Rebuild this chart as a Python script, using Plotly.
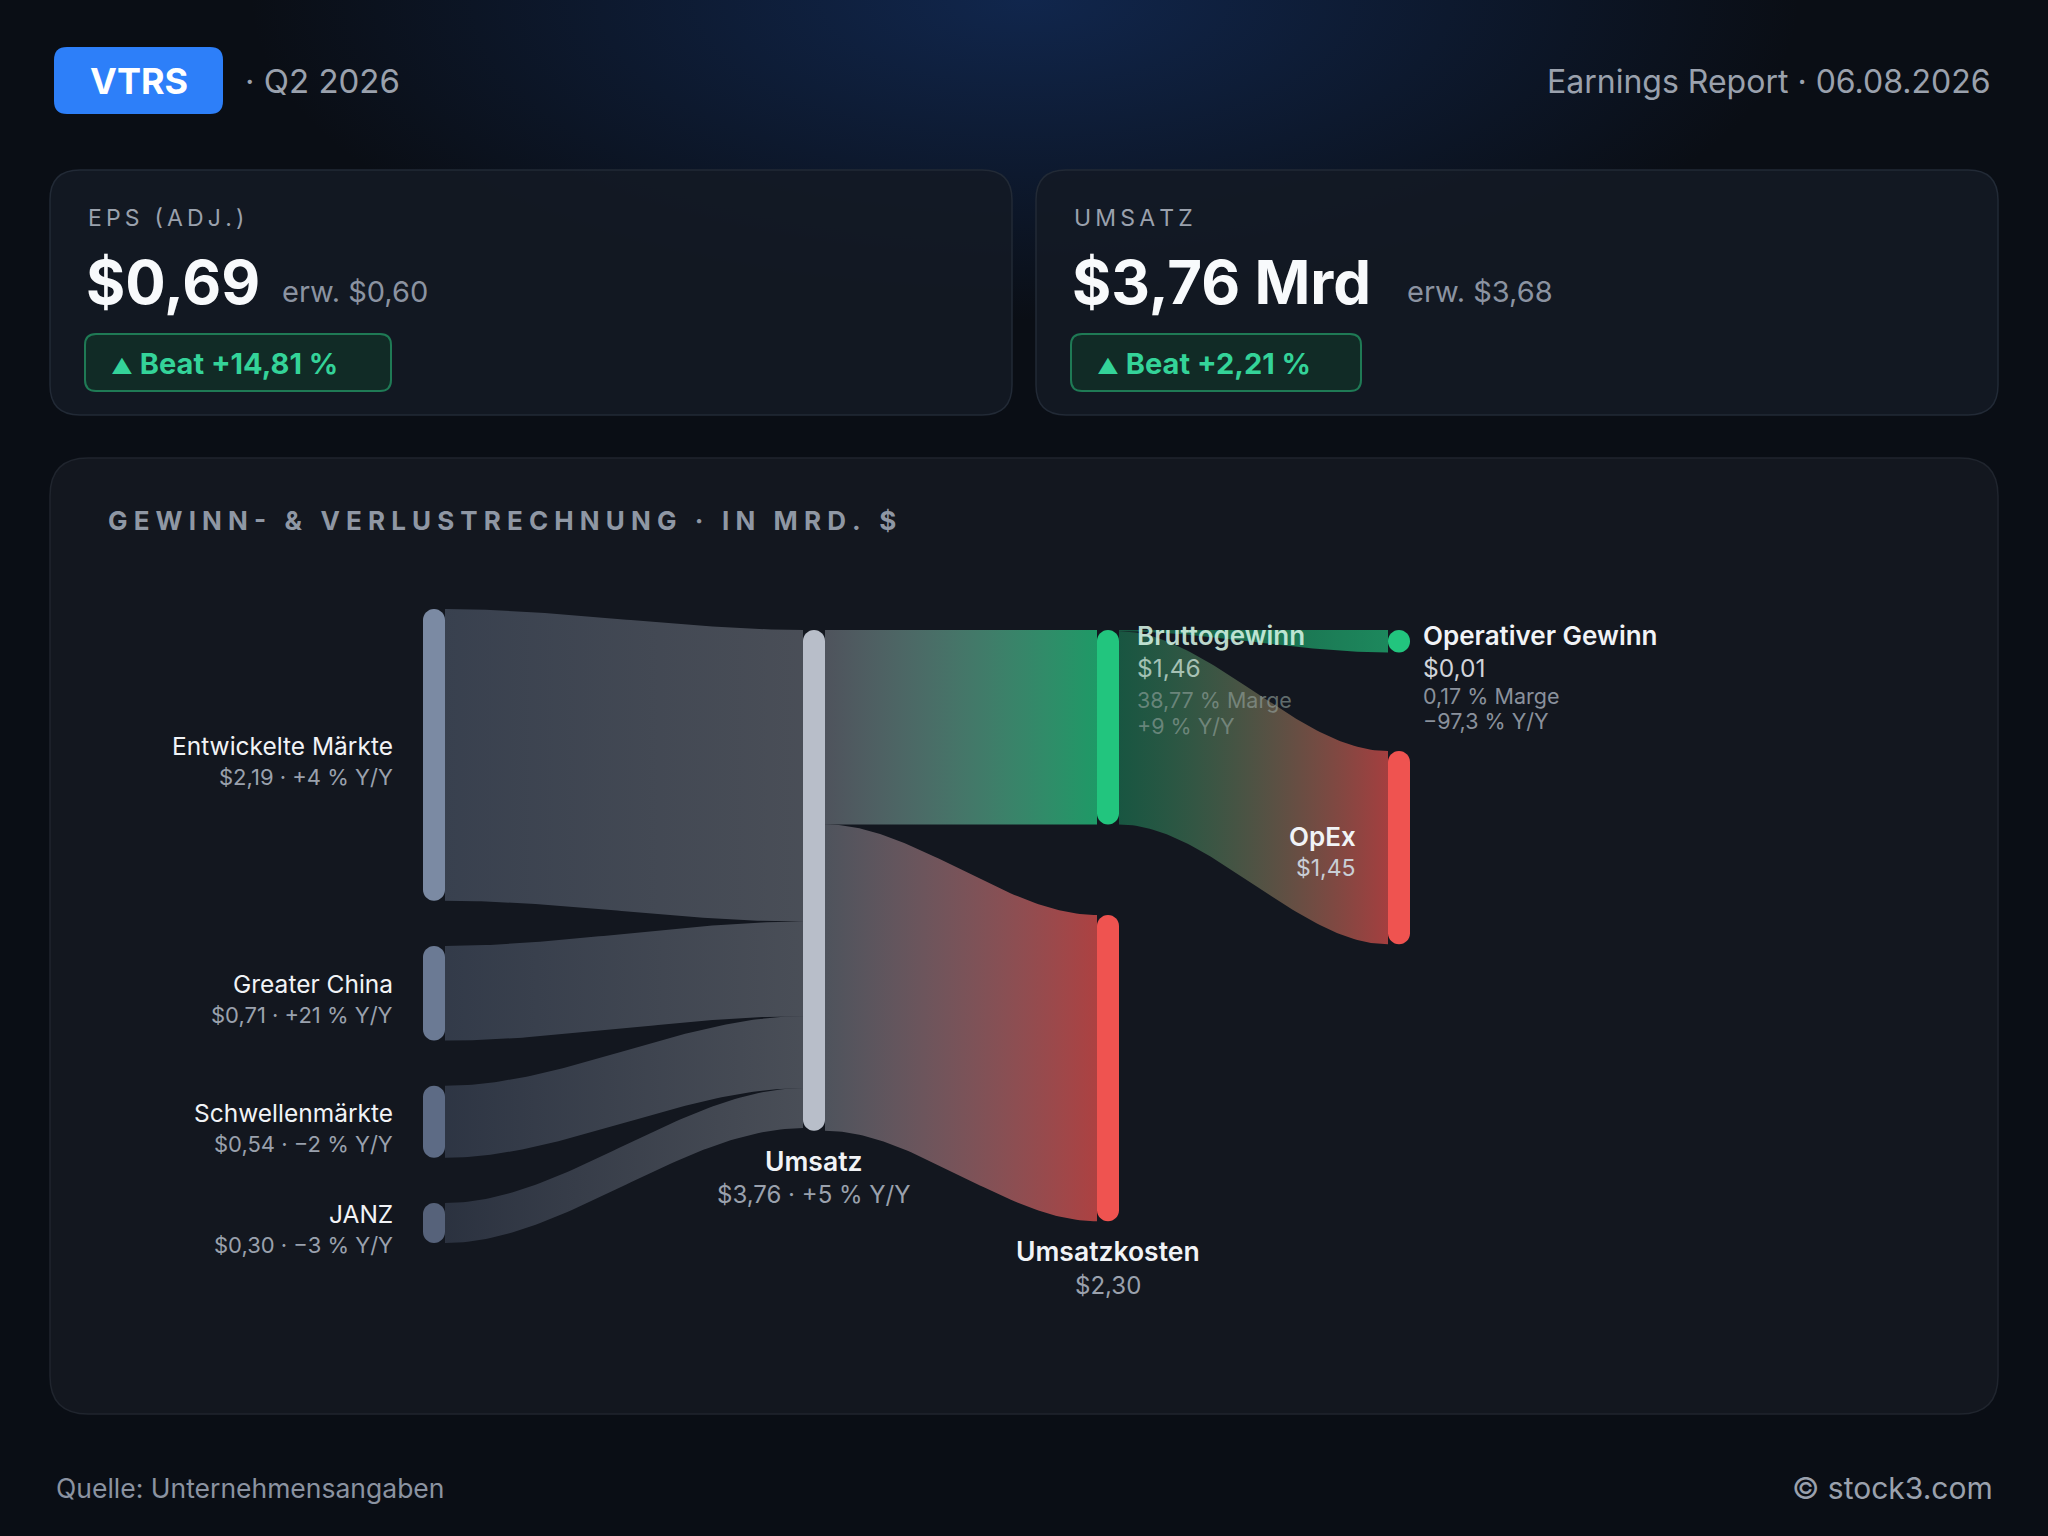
import base64
import numpy as np
import plotly.graph_objects as go

W, H = 2048, 1536

# ---- header / KPI data ----
TICKER = 'VTRS'
QUARTER = 'Q2 2026'
REPORT_DATE = '06.08.2026'
EPS_ACT, EPS_EST, EPS_BEAT = 0.69, 0.60, 14.81
REV_ACT, REV_EST, REV_BEAT = 3.76, 3.68, 2.21
SOURCE = 'Quelle: Unternehmensangaben'
BRAND = '© stock3.com'

# ---- P&L flows, in Mrd. $ ----
NODES = ['Entwickelte Märkte', 'Greater China', 'Schwellenmärkte', 'JANZ', 'Umsatz',
         'Bruttogewinn', 'Umsatzkosten', 'Operativer Gewinn', 'OpEx']
NODE_COL = [0, 0, 0, 0, 1, 2, 2, 3, 3]
NODE_YOY = [4, 21, -2, -3, 5, 9, None, -97.3, None]
NODE_MARGIN = [None, None, None, None, None, 38.77, None, 0.17, None]
LINK_SRC = [0, 1, 2, 3, 4, 4, 5, 5]
LINK_TGT = [4, 4, 4, 4, 5, 6, 7, 8]
LINK_VAL = [2.19, 0.71, 0.54, 0.30, 1.46, 2.30, 0.01, 1.45]

# ---- layout / style ----
PX_PER_USD = 133.2      # vertical scale of the sankey axis
TOP_PX = 609            # where y = 0 sits on the page
COL_X = [434, 814, 1108, 1399]
NODE_W = 22
COL_TOP = [0, 0.157, 0.157, 0.157]
COL_GAP = [0.34, 0, 0.68, 0.74]
MIN_H = 0.17
FONT = 'Inter, DejaVu Sans, sans-serif'

NODE_RGB = [(123, 138, 163), (107, 122, 148), (93, 107, 133), (86, 98, 122), (184, 190, 201),
            (34, 197, 126), (239, 83, 80), (34, 197, 126), (239, 83, 80)]
ALPHA_OUT = [0.36, 0.36, 0.36, 0.36, 0.36, 0.36, 0, 0, 0]
ALPHA_IN = [0, 0, 0, 0, 0.33, 0.75, 0.7, 0.65, 0.66]
LABEL_SIDE = ['left'] * 4 + ['below', 'right', 'below', 'right', 'left']


def de(v, nd=2):
    return f'{v:.{nd}f}'.replace('.', ',')


def usd(v):
    return '$' + de(v)


def yoy(v):
    sign = '+' if v >= 0 else '−'
    return f'{sign}{abs(v):g} % Y/Y'.replace('.', ',')


def spaced(s, sep='\u2009\u200a'):
    # letter spacing via thin / hair spaces
    return sep.join(s)


def rgba(c, a):
    return f'rgba({c[0]},{c[1]},{c[2]},{a})'


# ---- node geometry (in $ on the y axis) ----
n = len(NODES)
val = []
for i in range(n):
    vin = sum(v for s, t, v in zip(LINK_SRC, LINK_TGT, LINK_VAL) if t == i)
    vout = sum(v for s, t, v in zip(LINK_SRC, LINK_TGT, LINK_VAL) if s == i)
    val.append(max(vin, vout))
hgt = [max(v, MIN_H) for v in val]

y0 = [0.0] * n
y1 = [0.0] * n
for c in range(len(COL_X)):
    cur = COL_TOP[c]
    for i in range(n):
        if NODE_COL[i] == c:
            y0[i] = cur
            y1[i] = cur + hgt[i]
            cur = y1[i] + COL_GAP[c]

fig = go.Figure()

# ---- links ----
out_off = list(y0)
in_off = list(y0)
u = np.linspace(0, 1, 80)
f = 3 * u ** 2 - 2 * u ** 3
for s, t, v in zip(LINK_SRC, LINK_TGT, LINK_VAL):
    ws = v * hgt[s] / val[s]
    wt = v * hgt[t] / val[t]
    sa, sb = out_off[s], out_off[s] + ws
    ta, tb = in_off[t], in_off[t] + wt
    out_off[s] = sb
    in_off[t] = tb
    xa = COL_X[NODE_COL[s]] + NODE_W / 2
    xb = COL_X[NODE_COL[t]] - NODE_W / 2
    xs = xa + (xb - xa) * u
    top = sa + (ta - sa) * f
    bot = sb + (tb - sb) * f
    fig.add_trace(go.Scatter(
        x=np.concatenate([xs, xs[::-1]]), y=np.concatenate([top, bot[::-1]]),
        mode='lines', line=dict(width=0), fill='toself',
        fillcolor=rgba(NODE_RGB[t], ALPHA_IN[t]),
        fillgradient=dict(type='horizontal', colorscale=[[0, rgba(NODE_RGB[s], ALPHA_OUT[s])],
                                                          [1, rgba(NODE_RGB[t], ALPHA_IN[t])]]),
        hoverinfo='skip', showlegend=False))


# ---- nodes as rounded bars ----
def pill(xc, a, b):
    rx = NODE_W / 2
    ry = min(rx / PX_PER_USD, (b - a) / 2)
    k = 0.5523
    x0, x1 = xc - rx, xc + rx
    return (f'M{x0},{a + ry} C{x0},{a + ry * (1 - k)} {xc - rx * k},{a} {xc},{a} '
            f'C{xc + rx * k},{a} {x1},{a + ry * (1 - k)} {x1},{a + ry} '
            f'L{x1},{b - ry} C{x1},{b - ry * (1 - k)} {xc + rx * k},{b} {xc},{b} '
            f'C{xc - rx * k},{b} {x0},{b - ry * (1 - k)} {x0},{b - ry} Z')


shapes = []
for i in range(n):
    shapes.append(dict(type='path', xref='x', yref='y', path=pill(COL_X[NODE_COL[i]], y0[i], y1[i]),
                       fillcolor=rgba(NODE_RGB[i], 1), line=dict(width=0), layer='above'))


# ---- page decoration (paper coords from pixel values) ----
def rrect(x0, ya, x1, yb, r, fill, line, lw=1.5):
    X = lambda x: x / W
    Y = lambda y: 1 - y / H
    p = (f'M{X(x0 + r)},{Y(ya)} L{X(x1 - r)},{Y(ya)} Q{X(x1)},{Y(ya)} {X(x1)},{Y(ya + r)} '
         f'L{X(x1)},{Y(yb - r)} Q{X(x1)},{Y(yb)} {X(x1 - r)},{Y(yb)} '
         f'L{X(x0 + r)},{Y(yb)} Q{X(x0)},{Y(yb)} {X(x0)},{Y(yb - r)} '
         f'L{X(x0)},{Y(ya + r)} Q{X(x0)},{Y(ya)} {X(x0 + r)},{Y(ya)} Z')
    return dict(type='path', xref='paper', yref='paper', path=p, fillcolor=fill,
                line=dict(color=line, width=lw), layer='below')


shapes.append(rrect(54, 47, 223, 114, 13, '#2d7ff9', '#2d7ff9', 0))
shapes.append(rrect(50, 170, 1012, 415, 30, 'rgba(20,26,37,0.85)', '#222a36'))
shapes.append(rrect(1036, 170, 1998, 415, 30, 'rgba(20,26,37,0.85)', '#222a36'))
shapes.append(rrect(85, 334, 391, 391, 11, '#112b26', '#1f7a55', 2))
shapes.append(rrect(1071, 334, 1361, 391, 11, '#112b26', '#1f7a55', 2))
shapes.append(rrect(50, 458, 1998, 1414, 38, '#13171f', '#20252e'))

ann = []


def page_text(x, y, s, size, color, weight=400, xanchor='left'):
    ann.append(dict(x=x / W, y=1 - y / H, xref='paper', yref='paper', text=s, showarrow=False,
                    xanchor=xanchor, yanchor='middle', font=dict(family=FONT, size=size, color=color, weight=weight)))


page_text(138.5, 81, TICKER, 36, '#ffffff', 700, 'center')
page_text(243, 81, '· ' + QUARTER, 33, '#9aa1ad')
page_text(1993, 81, 'Earnings Report · ' + REPORT_DATE, 32, '#9aa1ad', xanchor='right')

page_text(86, 218, spaced('EPS (ADJ.)', '\u2009'), 23, '#9aa1ad')
page_text(84, 282, usd(EPS_ACT), 60, '#f8fafc', 700)
page_text(280, 292, 'erw. ' + usd(EPS_EST), 29, '#8b93a1')
page_text(109, 364, '<span style="font-size:21px">▲</span> Beat +' + de(EPS_BEAT) + ' %', 29, '#34d399', 700)

page_text(1072, 218, spaced('UMSATZ', '\u2009'), 23, '#9aa1ad')
page_text(1070, 282, usd(REV_ACT) + ' Mrd', 60, '#f8fafc', 700)
page_text(1405, 292, 'erw. ' + usd(REV_EST), 29, '#8b93a1')
page_text(1095, 364, '<span style="font-size:21px">▲</span> Beat +' + de(REV_BEAT) + ' %', 29, '#34d399', 700)

page_text(106, 520, spaced('GEWINN- & VERLUSTRECHNUNG · IN MRD. $'), 26, '#8f97a4', 700)
page_text(54, 1488, SOURCE, 26.5, '#8b93a1')
page_text(1995, 1488, BRAND, 30, '#9aa1ad', xanchor='right')


def node_text(x, y, s, size, color, weight, xanchor, yshift):
    ann.append(dict(x=x, y=y, xref='x', yref='y', text=s, showarrow=False, xanchor=xanchor,
                    yanchor='middle', yshift=yshift,
                    font=dict(family=FONT, size=size, color=color, weight=weight)))


for i in range(n):
    xc = COL_X[NODE_COL[i]]
    mid = (y0[i] + y1[i]) / 2
    side = LABEL_SIDE[i]
    if side == 'left' and NODE_COL[i] == 0:
        x = xc - NODE_W / 2 - 28
        node_text(x, mid, NODES[i], 24.5, '#f1f3f6', 400, 'right', 9)
        node_text(x, mid, usd(val[i]) + ' · ' + yoy(NODE_YOY[i]), 22, '#9aa1ad', 400, 'right', -22)
    elif side == 'left':
        x = xc - NODE_W / 2 - 30
        node_text(x, mid, NODES[i], 26, '#f1f3f6', 600, 'right', 11)
        node_text(x, mid, usd(val[i]), 23, '#c9ced6', 400, 'right', -20)
    elif side == 'below':
        sub = usd(val[i]) + (' · ' + yoy(NODE_YOY[i]) if NODE_YOY[i] is not None else '')
        node_text(xc, y1[i], NODES[i], 26.5, '#f1f3f6', 600, 'center', -30)
        node_text(xc, y1[i], sub, 24, '#9aa1ad', 400, 'center', -64)
    else:
        dim = NODE_COL[i] == 2
        x = xc + NODE_W / 2 + (16 if dim else 11)
        node_text(x, y0[i], NODES[i], 26, 'rgba(220,250,235,0.85)' if dim else '#f1f3f6', 600, 'left', -6)
        node_text(x, y0[i], usd(val[i]), 24.5, 'rgba(215,235,225,0.72)' if dim else '#d0d4da', 400, 'left', -38)
        node_text(x, y0[i], de(NODE_MARGIN[i]) + ' % Marge', 21.5,
                  'rgba(150,165,160,0.6)' if dim else '#8a919c', 400, 'left', -70 if dim else -66)
        node_text(x, y0[i], yoy(NODE_YOY[i]), 21.5, 'rgba(150,165,160,0.6)' if dim else '#8a919c',
                  400, 'left', -96 if dim else -91)

# soft blue glow at the top of the page
svg = (f"<svg xmlns='http://www.w3.org/2000/svg' width='{W}' height='{H}'>"
       "<defs><radialGradient id='g' cx='0.5' cy='0' r='0.5'>"
       "<stop offset='0' stop-color='#163a7a' stop-opacity='0.55'/>"
       "<stop offset='1' stop-color='#163a7a' stop-opacity='0'/></radialGradient></defs>"
       "<rect x='250' y='0' width='1550' height='640' fill='url(#g)'/></svg>")
glow = 'data:image/svg+xml;base64,' + base64.b64encode(svg.encode()).decode()

fig.update_layout(
    width=W, height=H, margin=dict(l=0, r=0, t=0, b=0),
    paper_bgcolor='#0a0e15', plot_bgcolor='rgba(0,0,0,0)',
    xaxis=dict(range=[0, W], visible=False, fixedrange=True),
    yaxis=dict(range=[(H - TOP_PX) / PX_PER_USD, -TOP_PX / PX_PER_USD], visible=False, fixedrange=True),
    shapes=shapes, annotations=ann, showlegend=False,
    images=[dict(source=glow, xref='paper', yref='paper', x=0, y=1, sizex=1, sizey=1,
                 sizing='stretch', xanchor='left', yanchor='top', layer='below')],
)

fig.write_html("out.html", config={'displayModeBar': False},
               post_script="document.body.style.margin='0';")
